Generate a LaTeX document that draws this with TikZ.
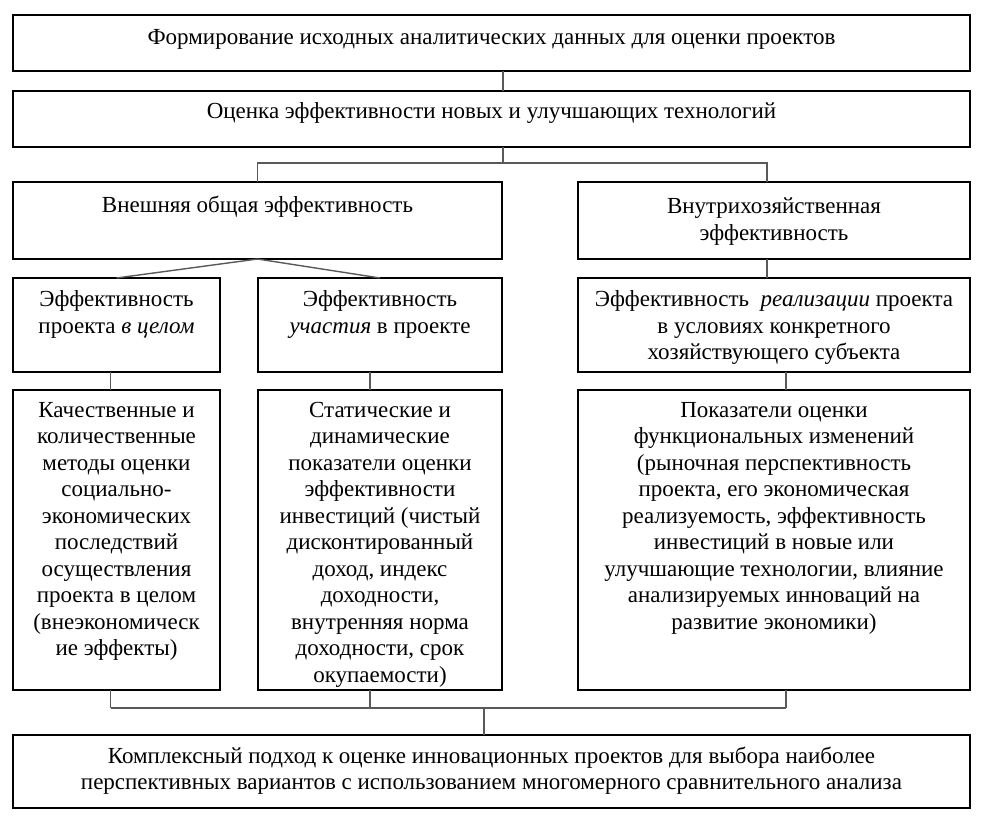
\documentclass[tikz,border=0pt]{standalone}
\usepackage{fontspec}
\setmainfont{Liberation Serif}
\usetikzlibrary{calc}
\tikzset{
  bx/.style={draw=black, line width=1.4pt, inner sep=0pt, outer sep=0pt, anchor=north west,
    font=\fontsize{23}{26.5}\selectfont},
  conn/.style={draw=black!65, line width=1.4pt}
}
\newcommand\bt[4]{\parbox[t][#2pt][t]{#1pt}{\setlength{\parskip}{0pt}\centering\vspace{#3pt}#4\par}}
\begin{document}
\begin{tikzpicture}[x=1pt,y=1pt]
\useasboundingbox (0,0) rectangle (988,-827);
\node[bx] (b1) at (13,-15) {\bt{957}{56}{14}{Формирование исходных аналитических данных для оценки проектов}};
\node[bx] (b2) at (13,-91) {\bt{957}{56}{12}{Оценка эффективности новых и улучшающих технологий}};
\node[bx] (b3) at (13,-182) {\bt{489}{77}{14}{Внешняя общая эффективность}};
\node[bx] (b4) at (578,-182) {\bt{392}{77}{16}{Внутрихозяйственная\\эффективность}};
\node[bx] (b5) at (13,-278) {\bt{207}{94}{13}{Эффективность\\проекта \textit{в целом}}};
\node[bx] (b6) at (258,-278) {\bt{244}{94}{13}{Эффективность\\\textit{участия} в проекте}};
\node[bx] (b7) at (578,-278) {\bt{392}{94}{13}{Эффективность \ \textit{реализации} проекта\\в условиях конкретного\\хозяйствующего субъекта}};
\node[bx] (b8) at (13,-390) {\bt{207}{300}{12}{Качественные и\\количественные\\методы оценки\\социально-\\экономических\\последствий\\осуществления\\проекта в целом\\(внеэкономическ\\ие эффекты)}};
\node[bx] (b9) at (258,-390) {\bt{244}{300}{12}{Статические и\\динамические\\показатели оценки\\эффективности\\инвестиций (чистый\\дисконтированный\\доход, индекс\\доходности,\\внутренняя норма\\доходности, срок\\окупаемости)}};
\node[bx] (b10) at (578,-390) {\bt{392}{300}{12}{Показатели оценки\\функциональных изменений\\(рыночная перспективность\\проекта, его экономическая\\реализуемость, эффективность\\инвестиций в новые или\\улучшающие технологии, влияние\\анализируемых инноваций на\\развитие экономики)}};
\node[bx] (b11) at (13,-735) {\bt{957}{73}{12}{Комплексный подход к оценке инновационных проектов для выбора наиболее\\перспективных вариантов с использованием многомерного сравнительного анализа}};

\draw[conn] ([xshift=11.5pt]b1.south) -- ([xshift=11.5pt]b2.north);
\draw[conn] ([xshift=11.5pt]b2.south) -- ++(0,-16) coordinate (j1);
\draw[conn] (b3.north) |- (j1) -| ([xshift=-7pt]b4.north);
\draw[conn] (b5.north) -- (b3.south) -- (b6.north);
\draw[conn] ([xshift=-7pt]b4.south) -- ([xshift=-7pt]b7.north);
\draw[conn] ([xshift=-6pt]b5.south) -- ([xshift=-6pt]b8.north);
\draw[conn] ([xshift=-10pt]b6.south) -- ([xshift=-10pt]b9.north);
\draw[conn] ([xshift=12pt]b7.south) -- ([xshift=12pt]b10.north);
\draw[conn] ([xshift=-6pt]b8.south) -- ++(0,-18) coordinate (j2);
\draw[conn] ([xshift=12pt]b10.south) -- ++(0,-18) coordinate (j3);
\draw[conn] (j2) -- (j3);
\draw[conn] ([xshift=-10pt]b9.south) -- ++(0,-18);
\draw[conn] ([xshift=-7.5pt]b11.north) -- ++(0,27);
\end{tikzpicture}
\end{document}
